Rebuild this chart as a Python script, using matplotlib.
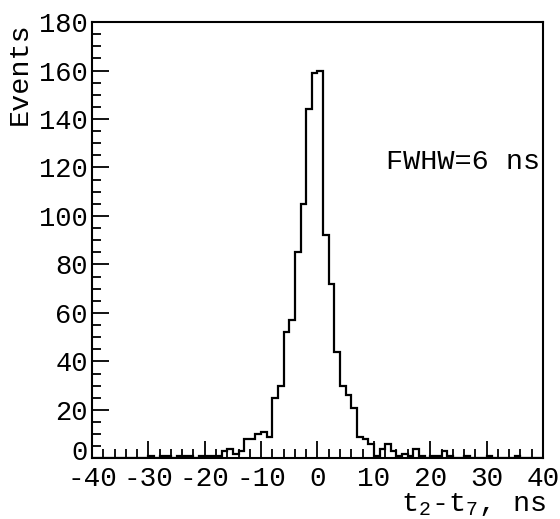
import numpy as np
import matplotlib
matplotlib.use("Agg")
import matplotlib.pyplot as plt
from matplotlib.ticker import MultipleLocator
from matplotlib.transforms import ScaledTranslation

plt.rcParams['font.family'] = ['Liberation Mono', 'DejaVu Sans Mono']
plt.rcParams['mathtext.fontset'] = 'custom'
plt.rcParams['mathtext.rm'] = 'Liberation Mono'
plt.rcParams['mathtext.it'] = 'Liberation Mono'
plt.rcParams['axes.unicode_minus'] = False

# Histogram data: 1 ns bins from -40 to 40
bin_edges = np.arange(-40, 41, 1)
counts = [
    0, 0, 0, 0, 0, 0, 0, 0, 0, 0,            # -40 .. -31
    1, 0, 1, 1, 0, 1, 1, 1, 0, 1, 1, 1, 1,   # -30 .. -18
    3, 4, 2, 3, 8, 8, 10, 11, 9, 25, 30,     # -17 .. -7
    52, 57, 85, 105, 144, 159, 160, 92, 72,  # -6 .. 2
    44, 30, 26, 21, 9, 8, 6,                 # 3 .. 9
    1, 4, 6, 3, 1, 2, 1, 4, 1, 0,            # 10 .. 19
    1, 1, 3, 1, 0, 0, 1, 0, 0, 0,            # 20 .. 29
    1, 0, 0, 0, 0, 1, 0, 0, 0, 0,            # 30 .. 39
]
x_ticks = [-40, -30, -20, -10, 0, 10, 20, 30, 40]
y_ticks = [0, 20, 40, 60, 80, 100, 120, 140, 160, 180]

fig = plt.figure(figsize=(5.6, 5.19), dpi=100)
ax = fig.add_axes([0.1643, 0.1166, 0.8053, 0.841])

ax.stairs(counts, bin_edges, color='black', linewidth=1.6, baseline=0)

ax.set_xlim(-40, 40)
ax.set_ylim(0, 180)
ax.set_xticks(x_ticks)
ax.set_xticklabels([str(v) for v in x_ticks], fontsize=20)
ax.set_yticks(y_ticks)
ax.set_yticklabels([str(v) for v in y_ticks], fontsize=19.5)
ax.xaxis.set_minor_locator(MultipleLocator(2))
ax.yaxis.set_minor_locator(MultipleLocator(5))

ax.tick_params(axis='both', which='major', direction='in', length=12, width=1.3,
               top=False, right=False)
ax.tick_params(axis='both', which='minor', direction='in', length=6.5, width=1.3,
               top=False, right=False)
ax.tick_params(axis='x', which='major', pad=5.5)
ax.tick_params(axis='y', which='major', pad=3)
for s in ax.spines.values():
    s.set_linewidth(1.5)

# lift the y "0" label slightly, as in the reference
zero_lbl = ax.get_yticklabels()[0]
zero_lbl.set_transform(zero_lbl.get_transform() +
                       ScaledTranslation(0, 6 / 72, fig.dpi_scale_trans))

fig.text(0.036, 0.957, 'Events', rotation=90, ha='center', va='top', fontsize=20.5)
fig.text(0.975, 0.028, r't$_2$-t$_7$, ns', ha='right', va='center', fontsize=20.5)
ax.text(0.993, 0.68, 'FWHW=6 ns', transform=ax.transAxes, ha='right', va='center',
        fontsize=20.5)

fig.savefig('out.png', dpi=100)
